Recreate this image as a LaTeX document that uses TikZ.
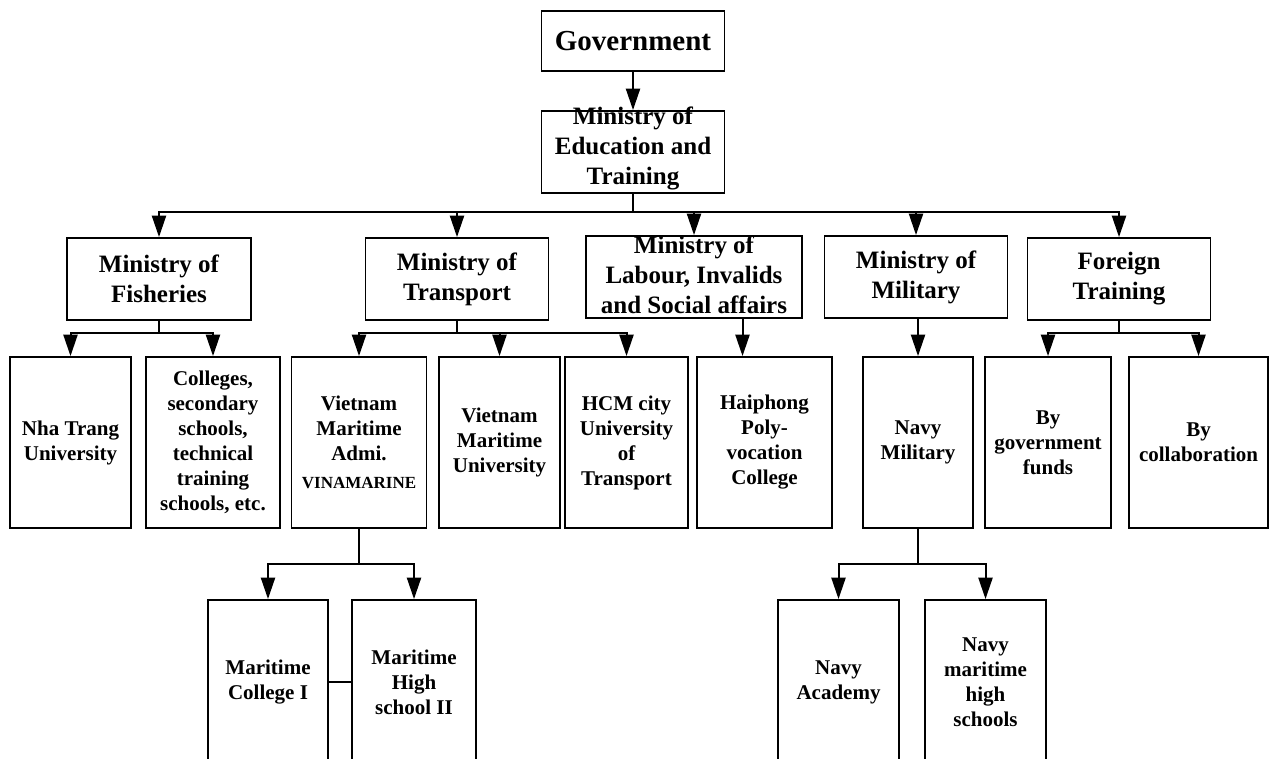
\documentclass[tikz,border=0pt]{standalone}
\usepackage{fontspec}
\setmainfont{Liberation Serif}
\usetikzlibrary{arrows.meta}

\newlength\pxu
\setlength\pxu{0.75pt}

\tikzset{
  box/.style={draw, line width=1.4pt, inner sep=0pt, align=center, font=\bfseries},
  topfont/.style={font=\bfseries\fontsize{21.75}{26}\selectfont},
  minfont/.style={font=\bfseries\fontsize{18.75}{22.5}\selectfont},
  unifont/.style={font=\bfseries\fontsize{15.75}{18.75}\selectfont},
  txt/.style={inner sep=0pt, align=center},
  arr/.style={line width=1.5pt, -{Triangle[length=16pt,width=10.5pt]}},
  link/.style={line width=1.5pt}
}

\begin{document}
\begin{tikzpicture}[x=0.75pt, y=-0.75pt]
  \clip (0,0) rectangle (1270,759);

  %governo e ministero dell'educazione
  \node[box, topfont, minimum width=183\pxu, minimum height=60\pxu] (gov) at (633,41) {Government};
  \node[box, minimum width=183\pxu, minimum height=82\pxu] (moet) at (633,152) {};
  \node[txt, minfont] (moettxt) at (633,148) {Ministry of\\Education and\\Training};

  %i cinque ministeri
  \node[box, minfont, minimum width=184\pxu, minimum height=82\pxu] (fis) at (159,279) {Ministry of\\Fisheries};
  \node[box, minfont, minimum width=183\pxu, minimum height=82\pxu] (tra) at (457,279) {Ministry of\\Transport};
  \node[box, minimum width=216\pxu, minimum height=82\pxu] (lab) at (694,277) {};
  \node[txt, minfont] (labtxt) at (694,275) {Ministry of\\Labour, Invalids\\and Social affairs};
  \node[box, minfont, minimum width=183\pxu, minimum height=82\pxu] (mil) at (916,277) {Ministry of\\Military};
  \node[box, minfont, minimum width=183\pxu, minimum height=82\pxu] (for) at (1119,279) {Foreign\\Training};

  %scuole del terzo livello
  \node[box, unifont, minimum width=121\pxu, minimum height=171\pxu] (nha) at (70.5,442.5) {Nha Trang\\University};
  \node[box, unifont, minimum width=134\pxu, minimum height=171\pxu] (col) at (213,442.5) {Colleges,\\secondary\\schools,\\technical\\training\\schools, etc.};
  \node[box, unifont, minimum width=135\pxu, minimum height=171\pxu] (vna) at (359,442.5) {Vietnam\\Maritime\\Admi.\\[2pt]{\fontsize{12.75}{15}\selectfont VINAMARINE}};
  \node[box, unifont, minimum width=121\pxu, minimum height=171\pxu] (vmu) at (499.5,442.5) {Vietnam\\Maritime\\University};
  \node[box, unifont, minimum width=123\pxu, minimum height=171\pxu] (hcm) at (626.5,442.5) {HCM city\\University\\of\\Transport};
  \node[box, unifont, minimum width=135\pxu, minimum height=171\pxu] (hai) at (764.5,442.5) {Haiphong\\Poly-\\vocation\\College};
  \node[box, unifont, minimum width=110\pxu, minimum height=171\pxu] (nmil) at (918,442.5) {Navy\\Military};
  \node[box, unifont, minimum width=126\pxu, minimum height=171\pxu] (gfund) at (1048,442.5) {By\\government\\funds};
  \node[box, unifont, minimum width=139\pxu, minimum height=171\pxu] (colb) at (1198.5,442.5) {By\\collaboration};

  %ultimo livello (tagliato in basso)
  \node[box, unifont, minimum width=120\pxu, minimum height=164\pxu] (mc1) at (268,682) {Maritime\\College I};
  \node[box, unifont, minimum width=124\pxu, minimum height=164\pxu] (mhs) at (414,682) {Maritime\\High\\school II};
  \node[box, unifont, minimum width=121\pxu, minimum height=164\pxu] (nac) at (838.5,682) {Navy\\Academy};
  \node[box, unifont, minimum width=121\pxu, minimum height=164\pxu] (nmhs) at (985.5,682) {Navy\\maritime\\high\\schools};

  %punti di diramazione
  \coordinate (b0) at (633,212);
  \coordinate (b1) at (159,333);
  \coordinate (b2) at (457,333);
  \coordinate (b4) at (1119,333);
  \coordinate (b5) at (359,564);
  \coordinate (b6) at (918,564);

  %Archi
  \draw[arr] (gov) -- (moet);
  \draw[link] (moet.south) -- (b0);
  \draw[arr] (b0) -| (fis.north);
  \draw[arr] (b0) -| (tra.north);
  \draw[arr] (b0) -| (lab.north);
  \draw[arr] (b0) -| (mil.north);
  \draw[arr] (b0) -| (for.north);

  \draw[link] (fis.south) -- (b1);
  \draw[arr] (b1) -| (nha.north);
  \draw[arr] (b1) -| (col.north);

  \draw[link] (tra.south) -- (b2);
  \draw[arr] (b2) -| (vna.north);
  \draw[arr] (b2) -| (vmu.north);
  \draw[arr] (b2) -| (hcm.north);

  \draw[arr] ([xshift=-16.5pt]hai.north |- lab.south) -- ([xshift=-16.5pt]hai.north);
  \draw[arr] (mil.south -| nmil.north) -- (nmil.north);

  \draw[link] (for.south) -- (b4);
  \draw[arr] (b4) -| (gfund.north);
  \draw[arr] (b4) -| (colb.north);

  \draw[link] (vna.south) -- (b5);
  \draw[arr] (b5) -| (mc1.north);
  \draw[arr] (b5) -| (mhs.north);
  \draw[link] (mc1) -- (mhs);

  \draw[link] (nmil.south) -- (b6);
  \draw[arr] (b6) -| (nac.north);
  \draw[arr] (b6) -| (nmhs.north);

\end{tikzpicture}
\end{document}
